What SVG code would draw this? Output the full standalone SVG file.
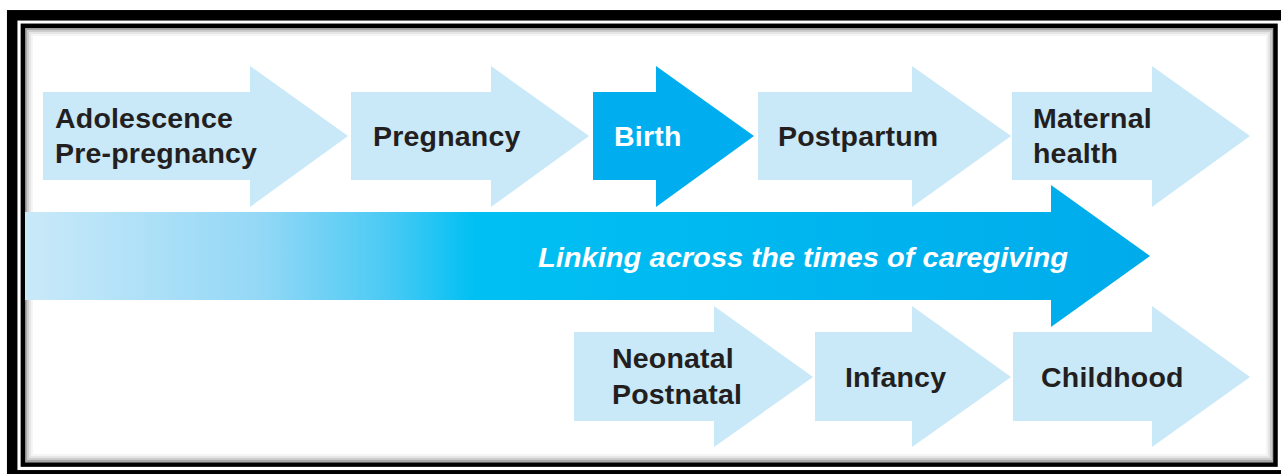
<svg xmlns="http://www.w3.org/2000/svg" width="1281" height="474" viewBox="0 0 1281 474">
  <defs>
    <linearGradient id="bigGrad" gradientUnits="userSpaceOnUse" x1="25" y1="0" x2="1150" y2="0">
      <stop offset="0" stop-color="#cae9f9"/>
      <stop offset="0.21" stop-color="#93d8f6"/>
      <stop offset="0.32" stop-color="#4ccaf4"/>
      <stop offset="0.4" stop-color="#00c0f3"/>
      <stop offset="1" stop-color="#00abeb"/>
    </linearGradient>
  </defs>
  <style>
    .light { fill: #c9e8f8; }
    .dark { fill: #00aeef; }
    .lbl { font-family: "Liberation Sans", Arial, sans-serif; font-weight: bold; font-size: 28.5px; letter-spacing: 0.2px; fill: #231f20; }
    .wlbl { font-family: "Liberation Sans", Arial, sans-serif; font-weight: bold; font-size: 28.5px; letter-spacing: 0.2px; fill: #ffffff; }
    .main { font-family: "Liberation Sans", Arial, sans-serif; font-weight: bold; font-style: italic; font-size: 28px; fill: #ffffff; }
  </style>
  <rect width="1281" height="474" fill="#ffffff"/>
  <!-- frame -->
  <g id="frame">
    <rect x="12.2" y="15.3" width="1276" height="460" fill="none" stroke="#000" stroke-width="10.5"/>
    <rect x="26" y="29" width="1247" height="432" fill="none" stroke="#000" stroke-opacity="0.35" stroke-width="2"/>
    <rect x="28" y="31" width="1243" height="428" fill="none" stroke="#000" stroke-opacity="0.2" stroke-width="2"/>
    <rect x="30" y="33" width="1239" height="424" fill="none" stroke="#000" stroke-opacity="0.1" stroke-width="2"/>
    <rect x="32" y="35" width="1235" height="420" fill="none" stroke="#000" stroke-opacity="0.04" stroke-width="2"/>
    <rect x="22.9" y="25.8" width="1252.6" height="438.8" fill="none" stroke="#000" stroke-width="4.5"/>
  </g>
  <!-- big arrow -->
  <g id="timeline">
    <polygon points="25,212 1051,212 1051,185 1150,256 1051,327 1051,300 25,300" fill="url(#bigGrad)"/>
    <text class="main" x="538" y="267" textLength="530" lengthAdjust="spacingAndGlyphs">Linking across the times of caregiving</text>
  </g>
  <!-- top row -->
  <g id="adolescence">
    <polygon class="light" points="43,92 250,92 250,66 348,136 250,207 250,180 43,180"/>
    <text class="lbl" x="55" y="128">Adolescence</text>
    <text class="lbl" x="55" y="163">Pre-pregnancy</text>
  </g>
  <g id="pregnancy">
    <polygon class="light" points="351,92 491,92 491,66 589,136 491,207 491,180 351,180"/>
    <text class="lbl" x="373" y="146">Pregnancy</text>
  </g>
  <g id="birth">
    <polygon class="dark" points="593,92 656,92 656,66 754,136 656,207 656,180 593,180"/>
    <text class="wlbl" x="614" y="146">Birth</text>
  </g>
  <g id="postpartum">
    <polygon class="light" points="758,92 912,92 912,66 1011,136 912,207 912,180 758,180"/>
    <text class="lbl" x="778" y="146">Postpartum</text>
  </g>
  <g id="maternal">
    <polygon class="light" points="1012,92 1152,92 1152,66 1250,136 1152,207 1152,180 1012,180"/>
    <text class="lbl" x="1033" y="128">Maternal</text>
    <text class="lbl" x="1033" y="163">health</text>
  </g>
  <!-- bottom row -->
  <g id="neonatal">
    <polygon class="light" points="574,332 714,332 714,306 813,377 714,447 714,421 574,421"/>
    <text class="lbl" x="612" y="368">Neonatal</text>
    <text class="lbl" x="612" y="404">Postnatal</text>
  </g>
  <g id="infancy">
    <polygon class="light" points="815,332 912,332 912,306 1011,377 912,447 912,421 815,421"/>
    <text class="lbl" x="845" y="387">Infancy</text>
  </g>
  <g id="childhood">
    <polygon class="light" points="1013,332 1152,332 1152,306 1250,377 1152,447 1152,421 1013,421"/>
    <text class="lbl" x="1041" y="387">Childhood</text>
  </g>
</svg>
